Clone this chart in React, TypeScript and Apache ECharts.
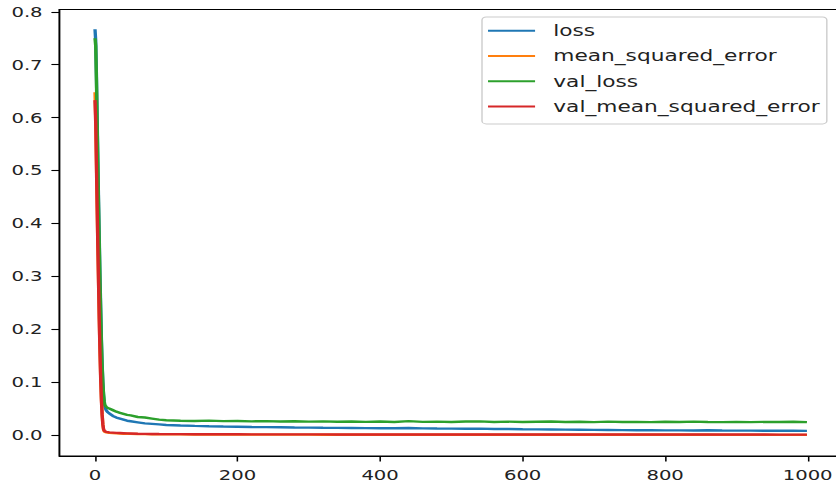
import React, { useEffect, useRef } from "react";
import * as echarts from "echarts";

const EPOCHS = [
  0, 1, 2, 3, 4, 5, 6, 7, 8, 9, 10, 11, 12, 13, 14, 16, 18, 20, 25, 30, 35, 40, 45, 50, 60, 70, 80, 90, 100,
  120, 140, 160, 180, 200, 220, 240, 260, 280, 300, 320, 340, 360, 380, 400, 420, 440, 460, 480, 500, 520, 540,
  560, 580, 600, 620, 640, 660, 680, 700, 720, 740, 760, 780, 800, 820, 840, 860, 880, 900, 920, 940, 960, 980, 999,
];

const LOSS = [
  0.767, 0.745, 0.68, 0.6, 0.52, 0.44, 0.37, 0.3, 0.24, 0.18, 0.135, 0.1, 0.075, 0.06, 0.052,
  0.046, 0.043, 0.041, 0.036, 0.033, 0.031, 0.029, 0.027, 0.026, 0.024, 0.022, 0.021, 0.02, 0.019,
  0.018, 0.0172, 0.0165, 0.016, 0.0156, 0.015, 0.0148, 0.0146, 0.0142, 0.014, 0.0137, 0.0135, 0.0133, 0.013,
  0.0128, 0.0127, 0.0133, 0.0125, 0.0122, 0.012, 0.0118, 0.0121, 0.0114, 0.0112, 0.0108, 0.0106, 0.0104,
  0.0102, 0.01, 0.0097, 0.0095, 0.0093, 0.0091, 0.009, 0.0088, 0.0087, 0.0086, 0.0089, 0.0084, 0.0083, 0.0082,
  0.0081, 0.008, 0.0079, 0.0078,
];

const MSE = [
  0.648, 0.6, 0.52, 0.44, 0.36, 0.29, 0.22, 0.16, 0.11, 0.07, 0.04, 0.02, 0.01, 0.007, 0.006,
  0.005, 0.0045, 0.004, 0.0035, 0.003, 0.0027, 0.0025, 0.0023, 0.0021, 0.0018, 0.0016, 0.0014, 0.0013, 0.0012,
  0.0011, 0.001, 0.0009, 0.00085, 0.0008, 0.00076, 0.00072, 0.00069, 0.00066, 0.00063, 0.0006, 0.00058, 0.00056,
  0.00054, 0.00052, 0.0005, 0.00049, 0.00048, 0.00047, 0.00046, 0.00045, 0.00044, 0.00043, 0.00042, 0.00041,
  0.0004, 0.00039, 0.00038, 0.00038, 0.00037, 0.00036, 0.00036, 0.00035, 0.00035, 0.00034, 0.00034, 0.00033,
  0.00033, 0.00032, 0.00032, 0.00031, 0.00031, 0.0003, 0.0003, 0.0003,
];

const VAL_LOSS = [
  0.75, 0.735, 0.67, 0.59, 0.51, 0.43, 0.36, 0.29, 0.23, 0.175, 0.13, 0.1, 0.078, 0.063, 0.056,
  0.053, 0.051, 0.05, 0.047, 0.044, 0.042, 0.04, 0.038, 0.037, 0.034, 0.033, 0.031, 0.029, 0.028,
  0.027, 0.0265, 0.0272, 0.0262, 0.0266, 0.0258, 0.0263, 0.0255, 0.026, 0.0252, 0.0258, 0.025, 0.0256, 0.0249,
  0.0254, 0.0247, 0.0262, 0.0248, 0.0253, 0.0246, 0.0255, 0.0258, 0.0247, 0.0252, 0.0245, 0.0251, 0.0256,
  0.0246, 0.025, 0.0244, 0.0252, 0.0246, 0.0249, 0.0243, 0.025, 0.0245, 0.0253, 0.0247, 0.0244, 0.0249,
  0.0243, 0.0248, 0.0245, 0.025, 0.0244,
];

const VAL_MSE = [
  0.633, 0.59, 0.51, 0.43, 0.355, 0.285, 0.215, 0.155, 0.105, 0.065, 0.038, 0.02, 0.011, 0.008, 0.007,
  0.006, 0.0055, 0.005, 0.0045, 0.004, 0.0037, 0.0034, 0.0031, 0.0029, 0.0025, 0.0022, 0.002, 0.0018, 0.0017,
  0.0016, 0.0015, 0.0014, 0.00135, 0.0013, 0.00125, 0.0012, 0.00118, 0.00115, 0.00112, 0.0011, 0.00108, 0.00106,
  0.00104, 0.00102, 0.001, 0.00099, 0.00098, 0.00097, 0.00096, 0.00095, 0.00094, 0.00093, 0.00092, 0.00091,
  0.0009, 0.00089, 0.00088, 0.00088, 0.00087, 0.00086, 0.00086, 0.00085, 0.00085, 0.00084, 0.00084, 0.00083,
  0.00083, 0.00082, 0.00082, 0.00081, 0.00081, 0.0008, 0.0008, 0.0008,
];

const SERIES_NAMES = ["loss", "mean_squared_error", "val_loss", "val_mean_squared_error"];
const SERIES_COLORS = ["#1f77b4", "#ff7f0e", "#2ca02c", "#d62728"];
const X_TICKS = [0, 200, 400, 600, 800, 1000];
const Y_TICKS = [0, 0.1, 0.2, 0.3, 0.4, 0.5, 0.6, 0.7, 0.8];

const W = 836;
const H = 489;
const SCALE_X = 836 / 597;
const INNER_W = 612;
const FONT = "DejaVu Sans";

export default function App() {
  const ref = useRef<HTMLDivElement>(null);

  useEffect(() => {
    const chart = echarts.init(ref.current!, undefined, { renderer: "svg", width: INNER_W, height: H });
    const values = [LOSS, MSE, VAL_LOSS, VAL_MSE];
    chart.setOption({
      animation: false,
      backgroundColor: "#ffffff",
      grid: {
        left: 42.4,
        right: INNER_W - 601.7,
        top: 9.5,
        bottom: 33,
        show: true,
        borderColor: "#000",
        borderWidth: 1.1,
        backgroundColor: "transparent",
      },
      legend: {
        orient: "vertical",
        left: 344.2,
        top: 17,
        icon: "rect",
        itemWidth: 33.6,
        itemHeight: 2,
        itemGap: 9.3,
        padding: [5.7, 5, 9.3, 4.3],
        backgroundColor: "rgba(255,255,255,0.8)",
        borderColor: "#cccccc",
        borderWidth: 1,
        borderRadius: 3,
        selectedMode: false,
        textStyle: {
          fontFamily: FONT,
          fontSize: 15.5,
          color: "#222",
          lineHeight: 16,
          padding: [0, 0, 0, 8],
        },
        data: SERIES_NAMES,
      },
      xAxis: {
        type: "value",
        min: -50,
        max: 1049,
        splitLine: { show: false },
        axisLine: { show: true, onZero: false, lineStyle: { color: "#000", width: 1.1 } },
        axisTick: { show: true, length: 5.5, lineStyle: { color: "#000", width: 1.1 }, customValues: X_TICKS },
        axisLabel: {
          fontFamily: FONT,
          fontSize: 14,
          color: "#222",
          margin: 12,
          customValues: X_TICKS,
          formatter: (v: number) => String(Math.round(v)),
        },
      },
      yAxis: {
        type: "value",
        min: -0.0397,
        max: 0.80435,
        splitLine: { show: false },
        axisLine: { show: true, onZero: false, lineStyle: { color: "#000", width: 1.1 } },
        axisTick: { show: true, length: 5.7, lineStyle: { color: "#000", width: 1.1 }, customValues: Y_TICKS },
        axisLabel: {
          fontFamily: FONT,
          fontSize: 14,
          color: "#222",
          margin: 12,
          customValues: Y_TICKS,
          formatter: (v: number) => v.toFixed(1),
        },
      },
      series: SERIES_NAMES.map((name, k) => ({
        name,
        type: "line",
        symbol: "none",
        silent: true,
        color: SERIES_COLORS[k],
        lineStyle: { color: SERIES_COLORS[k], width: 2.4 },
        data: EPOCHS.map((e, i) => [e, values[k][i]]),
      })),
    });
    return () => chart.dispose();
  }, []);

  return (
    <div
      style={{
        position: "fixed",
        left: 0,
        top: 0,
        width: W,
        height: H,
        overflow: "hidden",
        background: "#fff",
      }}
    >
      <div
        ref={ref}
        style={{
          width: INNER_W,
          height: H,
          transform: `scale(${SCALE_X}, 1)`,
          transformOrigin: "0 0",
        }}
      />
    </div>
  );
}
